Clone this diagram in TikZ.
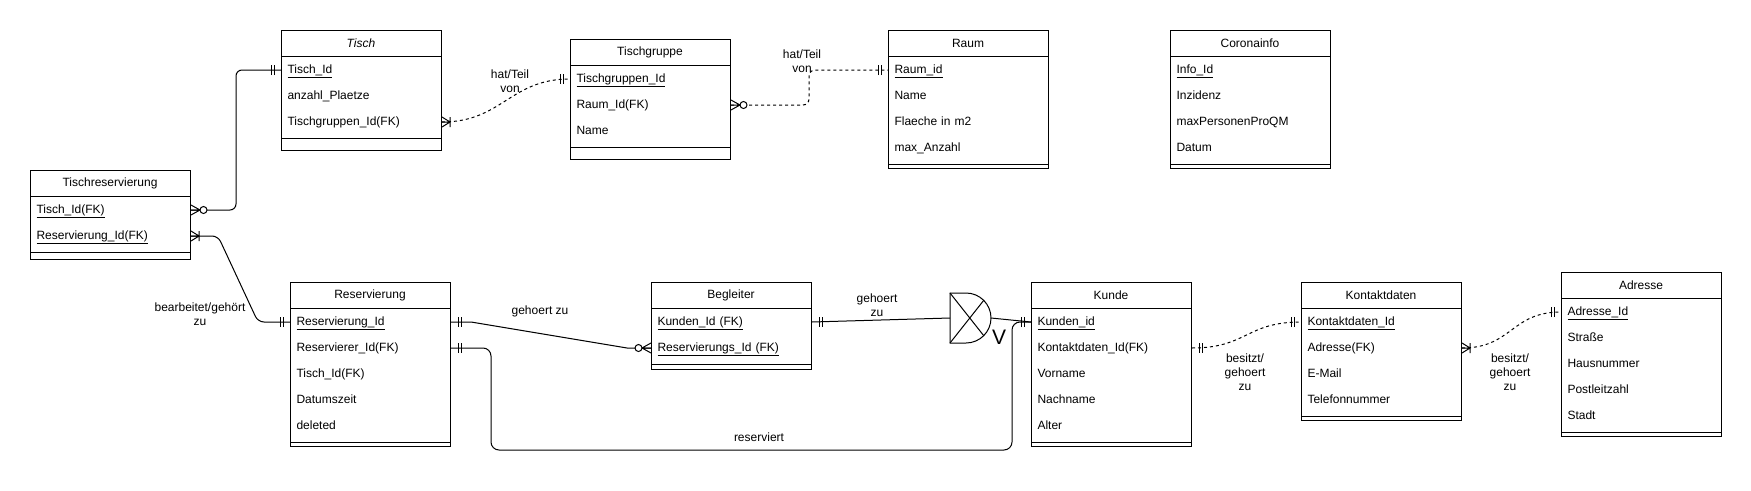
\documentclass[tikz,border=0pt]{standalone}
\usepackage{fontspec}
\setmainfont{Liberation Sans}
\begin{document}
\begin{tikzpicture}[x=1pt, y=-1pt, line width=1pt,
    every node/.style={font=\fontsize{12}{14}\selectfont},
    ebox/.style={draw, anchor=north west, minimum width=160pt, inner sep=0pt},
    ehead/.style={inner sep=0pt},
    erow/.style={anchor=west, text width=148pt, inner xsep=6pt, inner ysep=0pt,
      text height=9pt, text depth=3pt, align=left},
    elbl/.style={align=center, inner sep=1pt},
    weakline/.style={dash pattern=on 3pt off 3pt},
    pics/mone/.style={code={\draw (7,-5) -- (7,5) (10,-5) -- (10,5);}},
    pics/zmany/.style={code={\draw (0,-5) -- (9,0) -- (0,5) (0,0) -- (9,0);
      \draw[fill=white] (12.5,0) circle[radius=3.5pt];}},
    pics/omany/.style={code={\draw (0,-5) -- (8,0) -- (0,5) (0,0) -- (8,0) (8,-5) -- (8,5);}}]
    \useasboundingbox (0,0) rectangle (1751,490);

    % Tisch
    \node[ebox, minimum height=120pt] (tisch) at (281,30) {};
    \draw (281,56) -- ++(160,0) (281,138) -- ++(160,0);
    \node[ehead] (tischt) at (361,43) {\textit{Tisch}};
    \foreach \t [count=\i] in {{\underline{Tisch\_Id}}, anzahl\_Plaetze, Tischgruppen\_Id(FK)}
      \node[erow] (tisch\i) at (281,30+14+26*\i) {\t};

    % Tischgruppe
    \node[ebox, minimum height=120pt] (tg) at (570,39) {};
    \draw (570,65) -- ++(160,0) (570,147) -- ++(160,0);
    \node[ehead] (tgt) at (650,52) {Tischgruppe};
    \foreach \t [count=\i] in {{\underline{Tischgruppen\_Id}}, Raum\_Id(FK), Name}
      \node[erow] (tg\i) at (570,39+14+26*\i) {\t};

    % Raum
    \node[ebox, minimum height=138pt] (raum) at (888,30) {};
    \draw (888,56) -- ++(160,0) (888,164) -- ++(160,0);
    \node[ehead] (raumt) at (968,43) {Raum};
    \foreach \t [count=\i] in {{\underline{Raum\_id}}, Name, Flaeche in m2, max\_Anzahl}
      \node[erow] (raum\i) at (888,30+14+26*\i) {\t};

    % Coronainfo
    \node[ebox, minimum height=138pt] (corona) at (1170,30) {};
    \draw (1170,56) -- ++(160,0) (1170,164) -- ++(160,0);
    \node[ehead] (coronat) at (1250,43) {Coronainfo};
    \foreach \t [count=\i] in {{\underline{Info\_Id}}, Inzidenz, maxPersonenProQM, Datum}
      \node[erow] (corona\i) at (1170,30+14+26*\i) {\t};

    % Tischreservierung
    \node[ebox, minimum height=89pt] (tr) at (30,170) {};
    \draw (30,196) -- ++(160,0) (30,252) -- ++(160,0);
    \node[ehead] (trt) at (110,183) {Tischreservierung};
    \foreach \t [count=\i] in {{\underline{Tisch\_Id(FK)}}, {\underline{Reservierung\_Id(FK)}}}
      \node[erow] (tr\i) at (30,170+14+26*\i) {\t};

    % Reservierung
    \node[ebox, minimum height=164pt] (res) at (290,282) {};
    \draw (290,308) -- ++(160,0) (290,442) -- ++(160,0);
    \node[ehead] (rest) at (370,295) {Reservierung};
    \foreach \t [count=\i] in {{\underline{Reservierung\_Id}}, Reservierer\_Id(FK), Tisch\_Id(FK), Datumszeit, deleted}
      \node[erow] (res\i) at (290,282+14+26*\i) {\t};

    % Begleiter
    \node[ebox, minimum height=87pt] (beg) at (651,282) {};
    \draw (651,308) -- ++(160,0) (651,364) -- ++(160,0);
    \node[ehead] (begt) at (731,295) {Begleiter};
    \foreach \t [count=\i] in {{\underline{Kunden\_Id (FK)}}, {\underline{Reservierungs\_Id (FK)}}}
      \node[erow] (beg\i) at (651,282+14+26*\i) {\t};

    % Kunde
    \node[ebox, minimum height=164pt] (kunde) at (1031,282) {};
    \draw (1031,308) -- ++(160,0) (1031,442) -- ++(160,0);
    \node[ehead] (kundet) at (1111,295) {Kunde};
    \foreach \t [count=\i] in {{\underline{Kunden\_id}}, Kontaktdaten\_Id(FK), Vorname, Nachname, Alter}
      \node[erow] (kunde\i) at (1031,282+14+26*\i) {\t};

    % Kontaktdaten
    \node[ebox, minimum height=138pt] (kontakt) at (1301,282) {};
    \draw (1301,308) -- ++(160,0) (1301,416) -- ++(160,0);
    \node[ehead] (kontaktt) at (1381,295) {Kontaktdaten};
    \foreach \t [count=\i] in {{\underline{Kontaktdaten\_Id}}, Adresse(FK), E-Mail, Telefonnummer}
      \node[erow] (kontakt\i) at (1301,282+14+26*\i) {\t};

    % Adresse
    \node[ebox, minimum height=164pt] (adr) at (1561,272) {};
    \draw (1561,298) -- ++(160,0) (1561,432) -- ++(160,0);
    \node[ehead] (adrt) at (1641,285) {Adresse};
    \foreach \t [count=\i] in {{\underline{Adresse\_Id}}, Straße, Hausnummer, Postleitzahl, Stadt}
      \node[erow] (adr\i) at (1561,272+14+26*\i) {\t};

    % gate
    \coordinate (gatein) at (950,318);
    \coordinate (gateout) at (991,318);
    \draw (950,293) -- (966,293) arc[start angle=90, end angle=-90, radius=25pt] -- (950,343) -- cycle;
    \draw (950,293) -- (984,336) (950,343) -- (984,300);
    \node[font=\fontsize{21}{21}\selectfont] (gatev) at (999,337) {V};

    % relations
    \draw[rounded corners=6pt] (tr1.east) -- ++(45,0) |- (tisch1.west);
    \draw[rounded corners=6pt] (tr2.east) -- ++(27,0) -- ([xshift=-32pt]res1.west) -- (res1.west);
    \draw[weakline] (tisch3.east) .. controls +(60,0) and +(-60,0) .. (tg1.west);
    \draw[weakline, rounded corners=6pt] (tg2.east) -- ++(78,0) |- (raum1.west);
    \draw (res1.east) -- ++(20,0) -- ([xshift=-24pt]beg2.west) -- (beg2.west);
    \draw[rounded corners=8pt] (res2.east) -- ++(40,0) -- ++(0,102)
      -| ([xshift=-19pt]kunde1.west) -- (kunde1.west);
    \draw (beg1.east) -- (gatein);
    \draw (gateout) -- (kunde1.west);
    \draw[weakline] (kunde2.east) .. controls +(55,0) and +(-55,0) .. (kontakt1.west);
    \draw[weakline] (kontakt2.east) .. controls +(50,0) and +(-50,0) .. (adr1.west);

    % ends
    \pic at (tr1.east) {zmany};
    \pic[rotate=180] at (tisch1.west) {mone};
    \pic at (tr2.east) {omany};
    \pic[rotate=180] at (res1.west) {mone};
    \pic at (tisch3.east) {omany};
    \pic[rotate=180] at (tg1.west) {mone};
    \pic at (tg2.east) {zmany};
    \pic[rotate=180] at (raum1.west) {mone};
    \pic at (res1.east) {mone};
    \pic[rotate=180] at (beg2.west) {zmany};
    \pic at (res2.east) {mone};
    \pic[rotate=180] at (kunde1.west) {mone};
    \pic at (beg1.east) {mone};
    \pic at (kunde2.east) {mone};
    \pic[rotate=180] at (kontakt1.west) {mone};
    \pic at (kontakt2.east) {omany};
    \pic[rotate=180] at (adr1.west) {mone};

    % labels
    \node[elbl] (lhat1) at (510,81) {hat/Teil\\von};
    \node[elbl] (lhat2) at (802,61) {hat/Teil\\von};
    \node[elbl] (lbearb) at (200,314) {bearbeitet/gehört\\zu};
    \node[elbl] (lgeh1) at (540,311) {gehoert zu};
    \node[elbl] (lgeh2) at (877,305) {gehoert\\zu};
    \node[elbl] (lres) at (759,437) {reserviert};
    \node[elbl] (lbes1) at (1245,372) {besitzt/\\gehoert\\zu};
    \node[elbl] (lbes2) at (1510,372) {besitzt/\\gehoert\\zu};
  \end{tikzpicture}
\end{document}
